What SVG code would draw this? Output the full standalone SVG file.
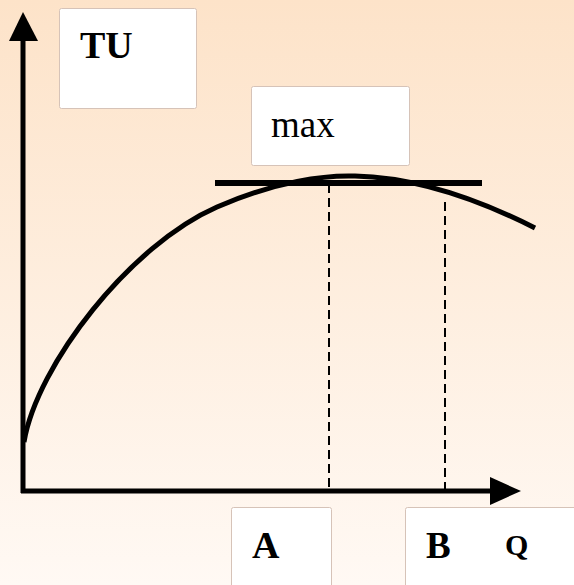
<svg xmlns="http://www.w3.org/2000/svg" width="574" height="585" viewBox="0 0 574 585">
<defs>
<linearGradient id="bg" x1="0" y1="0" x2="0" y2="1">
<stop offset="0" stop-color="#FDE3C9"/>
<stop offset="1" stop-color="#FFF9F4"/>
</linearGradient>
</defs>
<style>
.box{fill:#FFFFFF;stroke:#D6C3B8;stroke-width:1}
.axis{stroke:#000;stroke-width:5;fill:none}
.dash{stroke:#000;stroke-width:2;stroke-dasharray:9 5;fill:none}
.curve{stroke:#000;stroke-width:5;fill:none;stroke-linecap:butt}
.t{font-family:"Liberation Serif","DejaVu Serif",serif;fill:#000}
</style>
<rect width="574" height="585" fill="url(#bg)"/>
<g id="connectors">
<line class="axis" x1="23" y1="493" x2="23" y2="36"/>
<polygon points="23,12 9,41 38,41" fill="#000"/>
<line class="axis" x1="21" y1="491" x2="494" y2="491"/>
<polygon points="521,491 490,477 490,505" fill="#000"/>
<line class="dash" x1="329" y1="184" x2="329" y2="489"/>
<line class="dash" x1="445" y1="202" x2="445" y2="489"/>
<line x1="215" y1="183" x2="482" y2="183" stroke="#000" stroke-width="6"/>
<path class="curve" d="M24,442 C37,365 130,245 217,207 C277,181 325,175 355,176 C400,177 460,190 535,228"/>
</g>
<g id="node-tu">
<rect class="box" x="59.5" y="8.5" width="137" height="100" rx="2"/>
<text class="t" x="80" y="58" font-weight="bold" font-size="38">TU</text>
</g>
<g id="node-max">
<rect class="box" x="251.5" y="86.5" width="158" height="79" rx="2"/>
<text class="t" x="271" y="137" font-size="37">max</text>
</g>
<g id="node-a">
<rect class="box" x="231.5" y="507.5" width="100" height="90" rx="2"/>
<text class="t" x="252" y="558" font-weight="bold" font-size="38">A</text>
</g>
<g id="node-b">
<rect class="box" x="405.5" y="507.5" width="180" height="90" rx="2"/>
<text class="t" x="426" y="558" font-weight="bold" font-size="37">B</text>
<text class="t" x="505" y="555" font-weight="bold" font-size="30">Q</text>
</g>
</svg>
